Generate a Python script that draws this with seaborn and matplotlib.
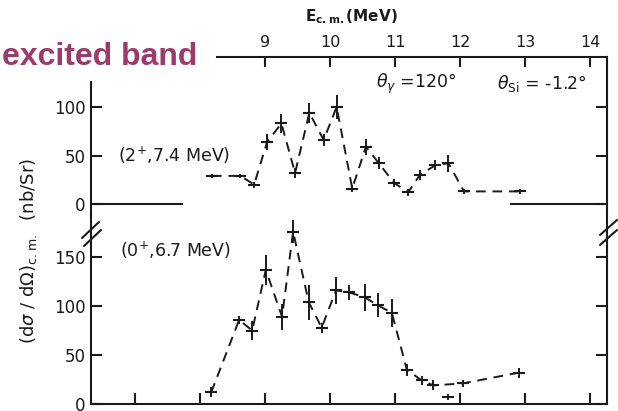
import matplotlib
matplotlib.use('Agg')
import numpy as np
import pandas as pd
import matplotlib.pyplot as plt
from matplotlib.lines import Line2D
import seaborn as sns

# (2+, 7.4 MeV) state, upper panel
e_2plus = [8.18, 8.62, 8.83, 9.03, 9.25, 9.46, 9.68, 9.90, 10.10, 10.34,
           10.55, 10.75, 10.98, 11.20, 11.38, 11.62, 11.82, 12.06, 12.92]
xs_2plus = [29, 29, 20, 64, 83, 32, 94, 66, 100, 16,
            59, 42, 22, 12, 30, 40, 42, 13, 13]
err_2plus = [2, 2, 3, 8, 10, 5, 10, 6, 12, 4,
             8, 6, 4, 4, 5, 5, 9, 3, 3]

# (0+, 6.7 MeV) state, lower panel
e_0plus = [8.17, 8.60, 8.80, 9.01, 9.26, 9.43, 9.67, 9.87, 10.09, 10.29,
           10.53, 10.73, 10.95, 11.18, 11.41, 11.59, 11.82, 12.04, 12.90]
xs_0plus = [12, 86, 75, 137, 89, 176, 104, 78, 116, 114,
            109, 101, 93, 35, 24, 19, 7, 21, 32]
err_0plus = [5, 4, 10, 15, 13, 12, 18, 5, 14, 8,
             14, 12, 14, 6, 5, 5, 3, 4, 5]
# the point at 11.82 MeV sits below the dashed curve
on_curve_0plus = [True] * 16 + [False] + [True] * 2

top_ticks = [9, 10, 11, 12, 13, 14]
bottom_ticks = [7, 8, 9, 10, 11, 12, 13, 14]

sns.set_style("ticks")
plt.rcParams['font.family'] = ['DejaVu Sans']
plt.rcParams['axes.linewidth'] = 1.5

W, H = 618, 411
fig = plt.figure(figsize=(W / 100, H / 100), dpi=100)

def fx(px):
    return px / W

def fy(py):
    return 1 - py / H

xlim = (6.32, 14.26)
ink = '#1a1a1a'

ax_top = fig.add_axes([fx(91), fy(215), fx(607) - fx(91), fy(57) - fy(215)])
ax_bot = fig.add_axes([fx(91), fy(404), fx(607) - fx(91), fy(215) - fy(404)])

df_top = pd.DataFrame({'E': e_2plus, 'xs': xs_2plus, 'err': err_2plus})
df_bot = pd.DataFrame({'E': e_0plus, 'xs': xs_0plus, 'err': err_0plus,
                       'curve': on_curve_0plus})

# dashed guide curves
sns.lineplot(data=df_top, x='E', y='xs', ax=ax_top, sort=False, estimator=None,
             color=ink, linewidth=1.4, linestyle=(0, (5, 3.5)))
sns.lineplot(data=df_bot[df_bot['curve']], x='E', y='xs', ax=ax_bot, sort=False,
             estimator=None, color=ink, linewidth=1.4, linestyle=(0, (5, 3.5)))

# data points with vertical error bars
for ax, df in [(ax_top, df_top), (ax_bot, df_bot)]:
    ax.errorbar(df['E'], df['xs'], yerr=df['err'], fmt='_', ms=8, mew=1.5,
                elinewidth=1.4, capsize=0, color=ink)
    ax.set_xlim(*xlim)
    ax.set_xlabel('')
    ax.set_ylabel('')
    ax.patch.set_alpha(0)
    for s in ax.spines.values():
        s.set_color(ink)

# upper panel
ax_top.set_ylim(-11.3, 151.5)
ax_top.xaxis.tick_top()
ax_top.set_xticks(top_ticks)
ax_top.set_xticklabels([str(t) for t in top_ticks])
ax_top.set_yticks([0, 50, 100])
ax_top.tick_params(axis='x', direction='in', length=7, width=1.5, labelsize=11.5,
                   pad=5, colors=ink)
ax_top.tick_params(axis='y', direction='in', length=8, width=1.5, labelsize=12,
                   pad=4, right=True, colors=ink)
ax_top.spines['bottom'].set_visible(False)
ax_top.spines['top'].set_bounds(8.26, xlim[1])
ax_top.spines['left'].set_bounds(-11.3, 126)
ax_top.hlines(0, xlim[0], 7.74, color=ink, linewidth=1.5)
ax_top.hlines(0, 12.77, xlim[1], color=ink, linewidth=1.5)

# lower panel
ax_bot.set_ylim(0, 193)
ax_bot.set_xticks(bottom_ticks)
ax_bot.set_xticklabels([])
ax_bot.set_yticks([0, 50, 100, 150])
ax_bot.tick_params(axis='x', direction='in', length=8, width=1.5, colors=ink)
ax_bot.tick_params(axis='y', direction='in', length=8, width=1.5, labelsize=12,
                   pad=4, right=True, colors=ink)
ax_bot.spines['top'].set_visible(False)

# axis break marks
for (x0, y0, x1, y1) in [(82, 238, 99, 222), (84, 246, 101, 230),
                         (600, 235, 617, 220), (600, 245, 617, 230)]:
    fig.add_artist(Line2D([fx(x0), fx(x1)], [fy(y0), fy(y1)], color=ink,
                          linewidth=1.5, transform=fig.transFigure))

# texts
fig.text(fx(351), fy(17), r'E$_{\mathbf{c.m.}}$(MeV)', ha='center', va='center',
         fontsize=11, fontweight='bold', color=ink)
fig.text(fx(2), fy(65), 'excited band', ha='left', va='baseline',
         fontsize=23, fontweight='bold', color='#9b3a6c',
         family=['Liberation Sans', 'DejaVu Sans'])
fig.text(fx(118), fy(155), r'(2$^{+}$,7.4 MeV)', ha='left', va='center',
         fontsize=12.5, color=ink)
fig.text(fx(120), fy(250), r'(0$^{+}$,6.7 MeV)', ha='left', va='center',
         fontsize=12.5, color=ink)
fig.text(fx(376), fy(84), r'$\theta_{\gamma}$ =120°', ha='left', va='center',
         fontsize=12.5, color=ink)
fig.text(fx(497), fy(84), r'$\theta_{\rm Si}$ = -1.2°', ha='left', va='center',
         fontsize=12.5, color=ink)
fig.text(fx(29), fy(251), r'(d$\sigma$ / d$\Omega$)$_{\rm c.m.}$  (nb/Sr)',
         ha='center', va='center', rotation=90, fontsize=13, color=ink)

fig.savefig('out.png', dpi=100)
